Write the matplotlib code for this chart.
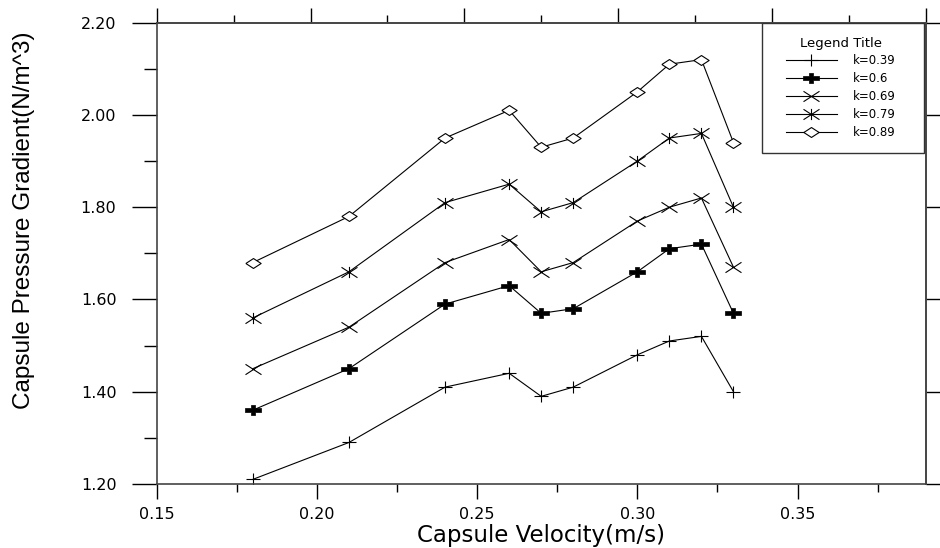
import numpy as np
import matplotlib
matplotlib.use("Agg")
import matplotlib.pyplot as plt
from matplotlib.path import Path
from matplotlib.patches import Rectangle

# capsule velocity (m/s)
velocity = [0.18, 0.21, 0.24, 0.26, 0.27, 0.28, 0.30, 0.31, 0.32, 0.33]
# capsule pressure gradient for each k
k039 = [1.21, 1.29, 1.41, 1.44, 1.39, 1.41, 1.48, 1.51, 1.52, 1.40]
k060 = [1.36, 1.45, 1.59, 1.63, 1.57, 1.58, 1.66, 1.71, 1.72, 1.57]
k069 = [1.45, 1.54, 1.68, 1.73, 1.66, 1.68, 1.77, 1.80, 1.82, 1.67]
k079 = [1.56, 1.66, 1.81, 1.85, 1.79, 1.81, 1.90, 1.95, 1.96, 1.80]
k089 = [1.68, 1.78, 1.95, 2.01, 1.93, 1.95, 2.05, 2.11, 2.12, 1.94]
labels = ["k=0.39", "k=0.6", "k=0.69", "k=0.79", "k=0.89"]

plt.rcParams['font.family'] = ['DejaVu Sans']

# markers (a bit wider than tall, like the original)
M, L = Path.MOVETO, Path.LINETO
thin_plus = Path([(-1, 0), (1, 0), (0, -0.9), (0, 0.9)], [M, L, M, L])
wide_x = Path([(-1, -0.65), (1, 0.65), (-1, 0.65), (1, -0.65)], [M, L, M, L])
star = Path([(-1, -0.65), (1, 0.65), (-1, 0.65), (1, -0.65), (0, -0.7), (0, 0.7)],
            [M, L, M, L, M, L])
bold_plus = Path([(-1, -0.22), (-0.3, -0.22), (-0.3, -0.65), (0.3, -0.65), (0.3, -0.22),
                  (1, -0.22), (1, 0.22), (0.3, 0.22), (0.3, 0.65), (-0.3, 0.65),
                  (-0.3, 0.22), (-1, 0.22), (-1, -0.22)])
diamond = Path([(-1, 0), (0, 0.65), (1, 0), (0, -0.65), (-1, 0)])

fig = plt.figure(figsize=(9.4, 5.48), dpi=100)
ax = fig.add_axes([0.1667, 0.1168, 0.8181, 0.8418])

lw = 0.8
ax.plot(velocity, k039, color='k', lw=lw, marker=thin_plus, ms=10, mew=0.8, mfc='none', label=labels[0])
ax.plot(velocity, k060, color='k', lw=lw, marker=bold_plus, ms=11, mew=0.5, mfc='k', mec='k', label=labels[1])
ax.plot(velocity, k069, color='k', lw=lw, marker=wide_x, ms=11.5, mew=0.8, mfc='none', label=labels[2])
ax.plot(velocity, k079, color='k', lw=lw, marker=star, ms=11.5, mew=0.8, mfc='none', label=labels[3])
ax.plot(velocity, k089, color='k', lw=lw, marker=diamond, ms=11, mew=0.8, mfc='white', mec='k', label=labels[4])

ax.set_xlim(0.15, 0.39)
ax.set_ylim(1.2, 2.2)
ax.set_xticks([0.15, 0.20, 0.25, 0.30, 0.35])
ax.set_xticks([0.175, 0.225, 0.275, 0.325, 0.375], minor=True)
ax.set_yticks([1.2, 1.4, 1.6, 1.8, 2.0, 2.2])
ax.set_yticks([1.3, 1.5, 1.7, 1.9, 2.1], minor=True)
ax.set_xticklabels(["0.15", "0.20", "0.25", "0.30", "0.35"])
ax.set_yticklabels(["1.20", "1.40", "1.60", "1.80", "2.00", "2.20"])

spine_col = '#444444'
for s in ax.spines.values():
    s.set_color(spine_col)
    s.set_linewidth(1.2)
ax.tick_params(axis='x', which='major', direction='out', length=10.8, width=1, pad=5.5, labelsize=11.5)
ax.tick_params(axis='x', which='minor', direction='out', length=5.8, width=1)
ax.tick_params(axis='y', which='major', direction='out', length=18, width=1, pad=11, labelsize=11.5)
ax.tick_params(axis='y', which='minor', direction='out', length=9.4, width=1)

# top axis: ten even divisions
top = ax.secondary_xaxis('top', functions=(lambda x: (x - 0.15) / 0.024, lambda t: 0.15 + t * 0.024))
top.set_xticks([0, 2, 4, 6, 8, 10])
top.set_xticks([1, 3, 5, 7, 9], minor=True)
top.tick_params(which='major', direction='out', length=10.8, width=1, labeltop=False)
top.tick_params(which='minor', direction='out', length=5.8, width=1)
top.spines['top'].set_color(spine_col)
top.spines['top'].set_linewidth(1.2)

right = ax.secondary_yaxis('right')
right.set_yticks([1.2, 1.4, 1.6, 1.8, 2.0, 2.2])
right.tick_params(direction='out', length=10, width=1, labelright=False)
right.spines['right'].set_color(spine_col)
right.spines['right'].set_linewidth(1.2)

# legend box
ax.add_patch(Rectangle((0.787, 0.7175), 0.2108, 0.2818, transform=ax.transAxes,
                       facecolor='white', edgecolor='#333333', lw=1.0, zorder=4))
leg = ax.legend(title="Legend Title", loc='upper left', bbox_to_anchor=(0.8183, 0.970),
                borderaxespad=0, borderpad=0, fontsize=8.5, title_fontsize=9.5, numpoints=1,
                handlelength=4.3, handletextpad=1.4, labelspacing=0.42,
                frameon=False)
leg.set_zorder(5)

fig.text(541 / 940, 1 - 535.5 / 548, "Capsule Velocity(m/s)", fontsize=16.5,
         ha='center', va='center')
fig.text(24 / 940, 1 - 220 / 548, "Capsule Pressure Gradient(N/m^3)", fontsize=17.5,
         family='Liberation Sans', rotation=90, ha='center', va='center')

fig.savefig("out.png", dpi=100)
